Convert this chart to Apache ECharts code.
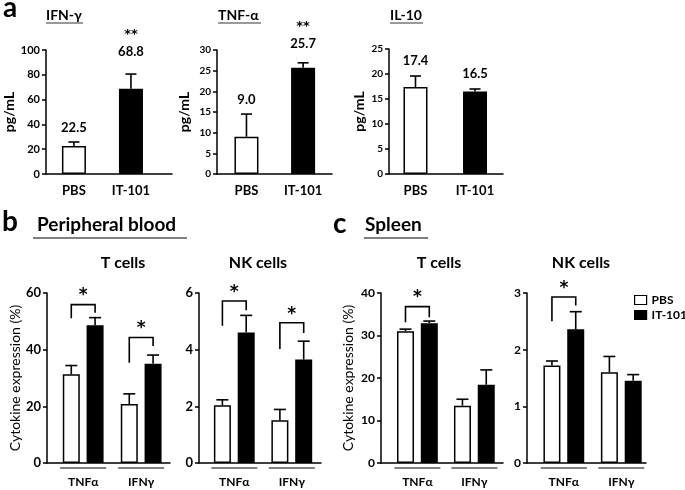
<!DOCTYPE html>
<html><head><meta charset="utf-8">
<script src="https://cdn.jsdelivr.net/npm/echarts@6/dist/echarts.min.js"></script>
<style>html,body{margin:0;padding:0;background:#fff}#c{width:685px;height:490px}</style>
</head><body><div id="c"></div>
<script>
// ---------------- DATA ----------------
// Panel a (serum cytokines, pg/mL)
const aCategories = ['PBS', 'IT-101'];
const ifnGammaMean = [22.5, 68.8];
const ifnGammaSem = [3.3, 11.8];
const ifnGammaSig = ['', '**'];
const ifnGammaTicks = [0, 20, 40, 60, 80, 100];

const tnfAlphaMean = [9.0, 25.7];
const tnfAlphaSem = [5.5, 1.2];
const tnfAlphaSig = ['', '**'];
const tnfAlphaTicks = [0, 5, 10, 15, 20, 25, 30];

const il10Mean = [17.4, 16.5];
const il10Sem = [2.2, 0.5];
const il10Sig = ['', ''];
const il10Ticks = [0, 5, 10, 15, 20, 25];

// Panels b, c (cytokine expression, %)
const groupCategories = ['TNFα', 'IFNγ'];
const seriesNames = ['PBS', 'IT-101'];

const bloodTPbs = [31.3, 20.8];
const bloodTPbsSem = [3.1, 3.6];
const bloodTIt = [48.6, 35.0];
const bloodTItSem = [2.7, 3.1];
const bloodTTicks = [0, 20, 40, 60];
// [group, left leg bottom, bracket top, right leg bottom, star level]
const bloodTBrackets = [[0, 51.1, 55.9, 53.0, 60.3], [1, 35.4, 44.3, 41.3, 48.6]];

const bloodNkPbs = [2.04, 1.51];
const bloodNkPbsSem = [0.19, 0.38];
const bloodNkIt = [4.61, 3.65];
const bloodNkItSem = [0.6, 0.65];
const bloodNkTicks = [0, 2, 4, 6];
const bloodNkBrackets = [[0, 4.84, 5.72, 5.39, 6.13], [1, 4.02, 4.95, 4.59, 5.33]];

const spleenTPbs = [31.0, 13.5];
const spleenTPbsSem = [0.5, 1.5];
const spleenTIt = [32.9, 18.4];
const spleenTItSem = [0.5, 3.5];
const spleenTTicks = [0, 10, 20, 30, 40];
const spleenTBrackets = [[0, 33.1, 36.8, 34.3, 39.6]];

const spleenNkPbs = [1.72, 1.60];
const spleenNkPbsSem = [0.08, 0.28];
const spleenNkIt = [2.36, 1.45];
const spleenNkItSem = [0.31, 0.11];
const spleenNkTicks = [0, 1, 2, 3];
const spleenNkBrackets = [[0, 2.50, 2.93, 2.78, 3.13]];

// ---------------- LAYOUT / STYLE ----------------
const FONT = 'Lato';
const STAR_FONT = 'bold 17px "DejaVu Sans"';
const grids = [], xAxes = [], yAxes = [], series = [];

function addAxes(L, ticks, yName, xLabels) {
  const i = grids.length;
  grids.push({left: L.left, top: L.top, width: L.width, height: L.height});
  xAxes.push({
    type: 'value', gridIndex: i, min: L.xmin, max: L.xmax,
    splitLine: {show: false}, axisTick: {show: false},
    axisLine: {show: true, onZero: false, lineStyle: {color: '#000', width: 1.5}},
    axisLabel: {
      customValues: [0, 1], formatter: v => xLabels[Math.round(v)] || '',
      margin: L.xMargin, color: '#000', fontFamily: FONT,
      fontSize: L.xFont, fontWeight: 'bold'
    }
  });
  yAxes.push({
    type: 'value', gridIndex: i, min: ticks[0], max: ticks[ticks.length - 1],
    interval: ticks[1] - ticks[0], splitLine: {show: false},
    axisLine: {show: true, onZero: false, lineStyle: {color: '#000', width: 1.5}},
    axisTick: {show: true, length: 4, lineStyle: {color: '#000', width: 1.5}},
    axisLabel: {color: '#000', fontFamily: FONT, fontWeight: 'bold', fontSize: L.tickFont, margin: 6},
    name: yName, nameLocation: 'middle', nameGap: L.nameGap,
    nameTextStyle: {color: '#000', fontFamily: FONT, fontSize: L.nameFont, fontWeight: L.nameBold ? 'bold' : 'normal'}
  });
  return i;
}

function errorSeries(gi, means, sems, offsetPx, capHalf) {
  return {
    type: 'custom', xAxisIndex: gi, yAxisIndex: gi, silent: true, clip: false, z: 4,
    data: means.map((m, k) => [k, m, m + sems[k]]),
    renderItem(params, api) {
      const p0 = api.coord([api.value(0), api.value(1)]);
      const p1 = api.coord([api.value(0), api.value(2)]);
      const x = p0[0] + offsetPx;
      return {type: 'group', children: [
        {type: 'line', shape: {x1: x, y1: p0[1], x2: x, y2: p1[1]}, style: {stroke: '#000', lineWidth: 1.6}},
        {type: 'line', shape: {x1: x - capHalf, y1: p1[1], x2: x + capHalf, y2: p1[1]}, style: {stroke: '#000', lineWidth: 1.6}}
      ]};
    }
  };
}

// ----- Panel a -----
const layoutA = [
  {left: 46, top: 50, width: 126, height: 124, xmin: -0.49, xmax: 1.72, tickFont: 11, nameGap: 24, labelOff: [14, 22]},
  {left: 217, top: 50, width: 115, height: 124, xmin: -0.52, xmax: 1.51, tickFont: 10, nameGap: 26, labelOff: [14, 19]},
  {left: 389, top: 49, width: 114, height: 125, xmin: -0.445, xmax: 1.47, tickFont: 10, nameGap: 23, labelOff: [15, 15]}
];
const panelA = [
  [ifnGammaMean, ifnGammaSem, ifnGammaSig, ifnGammaTicks],
  [tnfAlphaMean, tnfAlphaSem, tnfAlphaSig, tnfAlphaTicks],
  [il10Mean, il10Sem, il10Sig, il10Ticks]
];
panelA.forEach(([mean, sem, sig, ticks], p) => {
  const L = Object.assign({xMargin: 10, xFont: 13, nameFont: 14, nameBold: true}, layoutA[p]);
  const gi = addAxes(L, ticks, 'pg/mL', aCategories);
  series.push({
    type: 'bar', name: 'a' + p, xAxisIndex: gi, yAxisIndex: gi, barWidth: 24, z: 3,
    data: mean.map((m, k) => ({value: [k, m], itemStyle: {color: k ? '#000' : '#fff'}})),
    itemStyle: {borderColor: '#000', borderWidth: 1.5}
  });
  series.push(errorSeries(gi, mean, sem, 0, 5.5));
  series.push({
    type: 'custom', xAxisIndex: gi, yAxisIndex: gi, silent: true, clip: false, z: 5,
    data: mean.map((m, k) => [k, m + sem[k]]),
    renderItem(params, api) {
      const k = params.dataIndex;
      const pt = api.coord([api.value(0), api.value(1)]);
      const ly = pt[1] - L.labelOff[k];
      const children = [{type: 'text', x: pt[0], y: ly,
        style: {text: mean[k].toFixed(1), fill: '#000', font: 'bold 13px ' + FONT, align: 'center', verticalAlign: 'middle'}}];
      if (sig[k]) children.push({type: 'text', x: pt[0], y: ly - 17,
        style: {text: sig[k], fill: '#000', font: 'bold 13px "DejaVu Sans"', align: 'center', verticalAlign: 'middle'}});
      return {type: 'group', children};
    }
  });
});

// ----- Panels b, c -----
const BAR_W = 17, BAR_GAP = 0.4, HALF = BAR_W * (1 + BAR_GAP) / 2;
const layoutBC = [
  {left: 47, top: 293, width: 123, height: 170, xmin: -0.624, xmax: 1.497, tickFont: 13, nameGap: 25, yName: 'Cytokine expression (%)'},
  {left: 199, top: 293, width: 122, height: 170, xmin: -0.614, xmax: 1.508, tickFont: 13, nameGap: 25, yName: ''},
  {left: 381, top: 293, width: 122, height: 170, xmin: -0.639, xmax: 1.503, tickFont: 12, nameGap: 26, yName: 'Cytokine expression (%)'},
  {left: 527, top: 293, width: 119, height: 170, xmin: -0.641, xmax: 1.43, tickFont: 12, nameGap: 25, yName: ''}
];
const panelBC = [
  [bloodTPbs, bloodTPbsSem, bloodTIt, bloodTItSem, bloodTTicks, bloodTBrackets],
  [bloodNkPbs, bloodNkPbsSem, bloodNkIt, bloodNkItSem, bloodNkTicks, bloodNkBrackets],
  [spleenTPbs, spleenTPbsSem, spleenTIt, spleenTItSem, spleenTTicks, spleenTBrackets],
  [spleenNkPbs, spleenNkPbsSem, spleenNkIt, spleenNkItSem, spleenNkTicks, spleenNkBrackets]
];
panelBC.forEach(([pbs, pbsSem, it, itSem, ticks, brackets], p) => {
  const L = Object.assign({xMargin: 13, xFont: 12, nameFont: 14, nameBold: false}, layoutBC[p]);
  const gi = addAxes(L, ticks, L.yName, groupCategories);
  [[pbs, '#fff'], [it, '#000']].forEach(([vals, col], s) => {
    series.push({
      type: 'bar', name: seriesNames[s], xAxisIndex: gi, yAxisIndex: gi, barWidth: BAR_W,
      barGap: (BAR_GAP * 100) + '%', z: 3,
      data: vals.map((v, k) => [k, v]),
      itemStyle: {color: col, borderColor: '#000', borderWidth: 1.5}
    });
  });
  series.push(errorSeries(gi, pbs, pbsSem, -HALF, 6));
  series.push(errorSeries(gi, it, itSem, HALF, 6));
  // group underlines
  series.push({
    type: 'custom', xAxisIndex: gi, yAxisIndex: gi, silent: true, clip: false, z: 2,
    data: groupCategories.map((c, k) => [k, ticks[0]]),
    renderItem(params, api) {
      const pt = api.coord([api.value(0), api.value(1)]);
      return {type: 'line', shape: {x1: pt[0] - 23, y1: pt[1] + 5, x2: pt[0] + 23, y2: pt[1] + 5},
        style: {stroke: '#555', lineWidth: 1.5}};
    }
  });
  // significance brackets
  series.push({
    type: 'custom', xAxisIndex: gi, yAxisIndex: gi, silent: true, clip: false, z: 5,
    data: brackets,
    renderItem(params, api) {
      const g = api.value(0);
      const pl = api.coord([g, api.value(1)]);
      const pt = api.coord([g, api.value(2)]);
      const pr = api.coord([g, api.value(3)]);
      const ps = api.coord([g, api.value(4)]);
      const xl = pl[0] - HALF, xr = pl[0] + HALF;
      return {type: 'group', children: [
        {type: 'polyline', shape: {points: [[xl, pl[1]], [xl, pt[1]], [xr, pt[1]], [xr, pr[1]]]},
          style: {stroke: '#000', lineWidth: 1.6, fill: null}},
        {type: 'text', x: pl[0], y: ps[1] + 3,
          style: {text: '*', fill: '#000', font: STAR_FONT, align: 'center', verticalAlign: 'middle'}}
      ]};
    }
  });
});

// ---------------- TEXT ----------------
function txt(x, y, text, font, align) {
  return {type: 'text', x, y, silent: true,
    style: {text, fill: '#000', font, align: align || 'left', verticalAlign: 'middle'}};
}
function rule(x1, x2, y, color) {
  return {type: 'line', silent: true, shape: {x1, y1: y, x2, y2: y}, style: {stroke: color || '#777', lineWidth: 1.5}};
}
const graphic = [
  txt(3, 8, 'a', 'bold 28px ' + FONT),
  txt(46, 15, 'IFN-γ', 'bold 14px ' + FONT), rule(46, 83, 23),
  txt(218, 15, 'TNF-α', 'bold 14px ' + FONT), rule(218, 261, 23),
  txt(390, 15, 'IL-10', 'bold 14px ' + FONT), rule(390, 423, 23),
  txt(2, 222, 'b', 'bold 28px ' + FONT),
  txt(37, 225, 'Peripheral blood', 'bold 19px ' + FONT), rule(33, 187, 238, '#555'),
  txt(333, 224, 'c', 'bold 28px ' + FONT),
  txt(365, 225, 'Spleen', 'bold 19px ' + FONT), rule(364, 428, 238, '#555'),
  txt(123, 263, 'T cells', 'bold 16px ' + FONT, 'center'),
  txt(258, 263, 'NK cells', 'bold 16px ' + FONT, 'center'),
  txt(439, 263, 'T cells', 'bold 16px ' + FONT, 'center'),
  txt(581, 263, 'NK cells', 'bold 16px ' + FONT, 'center')
];

const chart = echarts.init(document.getElementById('c'), null, {renderer: 'canvas'});
chart.setOption({
  animation: false,
  backgroundColor: '#fff',
  grid: grids, xAxis: xAxes, yAxis: yAxes, series,
  legend: {
    data: seriesNames, orient: 'vertical', left: 634, top: 294, padding: 0, icon: 'rect',
    itemWidth: 12, itemHeight: 9, itemGap: 3, selectedMode: false,
    itemStyle: {borderColor: '#000', borderWidth: 1.2},
    textStyle: {color: '#000', fontFamily: FONT, fontWeight: 'bold', fontSize: 12}
  },
  graphic
});
</script></body></html>
